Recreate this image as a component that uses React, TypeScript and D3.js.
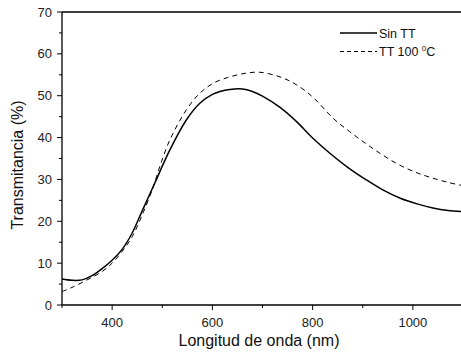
import * as d3 from "d3";

const WIDTH = 461;
const HEIGHT = 360;
const MARGIN = { top: 12, right: -2, bottom: 55, left: 62 };

// wavelength (nm) and transmittance (%)
const sinTTnm = [300, 320, 340, 360, 380, 400, 420, 440, 460, 485, 515, 548, 575, 600, 615, 635, 660, 680, 700, 735, 768, 800, 835, 870, 907, 940, 975, 1010, 1040, 1070, 1100];
const sinTTval = [6.2, 5.9, 6.0, 7.0, 8.7, 10.7, 13.3, 17.2, 22.5, 29.1, 37.0, 44.2, 48.2, 50.3, 51.0, 51.5, 51.6, 51.0, 49.9, 47.2, 43.8, 39.9, 36.2, 32.9, 29.9, 27.5, 25.5, 24.1, 23.2, 22.6, 22.3];

const tt100nm = [300, 320, 350, 380, 400, 420, 440, 460, 480, 495, 515, 548, 575, 602, 635, 668, 695, 735, 768, 801, 841, 874, 907, 940, 974, 1010, 1040, 1070, 1100];
const tt100val = [3.2, 4.2, 6.0, 8.0, 10.0, 12.8, 16.3, 21.5, 27.5, 33.0, 39.4, 46.6, 50.6, 53.0, 54.5, 55.4, 55.6, 54.5, 52.6, 49.6, 44.6, 41.4, 38.5, 35.8, 33.4, 31.5, 30.3, 29.3, 28.5];

const xTicks = [400, 600, 800, 1000];
const xMinor = [300, 500, 700, 900, 1100];
const yTicks = [0, 10, 20, 30, 40, 50, 60, 70];
const yMinor = [5, 15, 25, 35, 45, 55, 65];

const FONT = "Liberation Sans, Arial, sans-serif";

export default function App() {
  const boundsWidth = WIDTH - MARGIN.left - MARGIN.right;
  const boundsHeight = HEIGHT - MARGIN.top - MARGIN.bottom;

  const xScale = d3.scaleLinear().domain([300, 1100]).range([0, boundsWidth]);
  const yScale = d3.scaleLinear().domain([0, 70]).range([boundsHeight, 0]);

  const line = d3
    .line<[number, number]>()
    .x((d) => xScale(d[0]))
    .y((d) => yScale(d[1]))
    .curve(d3.curveCatmullRom.alpha(0.5));

  const solidPath = line(sinTTnm.map((v, i) => [v, sinTTval[i]]));
  const dashedPath = line(tt100nm.map((v, i) => [v, tt100val[i]]));

  return (
    <svg
      width={WIDTH}
      height={HEIGHT}
      style={{ position: "absolute", left: 0, top: 0, background: "#fff" }}
      fontFamily={FONT}
    >
      <g transform={`translate(${MARGIN.left},${MARGIN.top})`}>
        {/* frame: left, bottom, top */}
        <line x1={0} x2={0} y1={0} y2={boundsHeight} stroke="#000" strokeWidth={1.3} />
        <line x1={0} x2={boundsWidth + 5} y1={boundsHeight} y2={boundsHeight} stroke="#000" strokeWidth={1.3} />
        <line x1={0} x2={boundsWidth + 5} y1={0} y2={0} stroke="#000" strokeWidth={1.3} />

        {yTicks.map((v) => (
          <g key={"y" + v}>
            <line x1={-5} x2={0} y1={yScale(v)} y2={yScale(v)} stroke="#000" />
            <text x={-10} y={yScale(v)} dy="0.35em" textAnchor="end" fontSize={13} fill="#222">
              {v}
            </text>
          </g>
        ))}
        {yMinor.map((v) => (
          <line key={"ym" + v} x1={-3} x2={0} y1={yScale(v)} y2={yScale(v)} stroke="#000" />
        ))}

        {xTicks.map((v) => (
          <g key={"x" + v}>
            <line x1={xScale(v)} x2={xScale(v)} y1={boundsHeight} y2={boundsHeight + 5} stroke="#000" />
            <text x={xScale(v)} y={boundsHeight + 22} textAnchor="middle" fontSize={13} fill="#222">
              {v}
            </text>
          </g>
        ))}
        {xMinor.map((v) => (
          <line key={"xm" + v} x1={xScale(v)} x2={xScale(v)} y1={boundsHeight} y2={boundsHeight + 3} stroke="#000" />
        ))}

        <path d={dashedPath ?? ""} fill="none" stroke="#000" strokeWidth={1} strokeDasharray="5,4" />
        <path d={solidPath ?? ""} fill="none" stroke="#000" strokeWidth={1.5} />
      </g>

      {/* legend */}
      <line x1={340} x2={377} y1={33} y2={33} stroke="#000" strokeWidth={1.5} />
      <text x={379} y={37.5} fontSize={12.5} fill="#111">Sin TT</text>
      <line x1={340} x2={377} y1={51.5} y2={51.5} stroke="#000" strokeWidth={1} strokeDasharray="4,3" />
      <text x={379} y={56} fontSize={12.5} fill="#111">
        TT 100 <tspan fontSize={8} dy={-5}>0</tspan>
        <tspan dy={5}>C</tspan>
      </text>

      {/* axis titles */}
      <text x={259} y={346} textAnchor="middle" fontSize={16} fill="#111">
        Longitud de onda (nm)
      </text>
      <text
        transform={`translate(23,165) rotate(-90)`}
        textAnchor="middle"
        fontSize={16}
        fill="#111"
      >
        Transmitancia (%)
      </text>
    </svg>
  );
}
